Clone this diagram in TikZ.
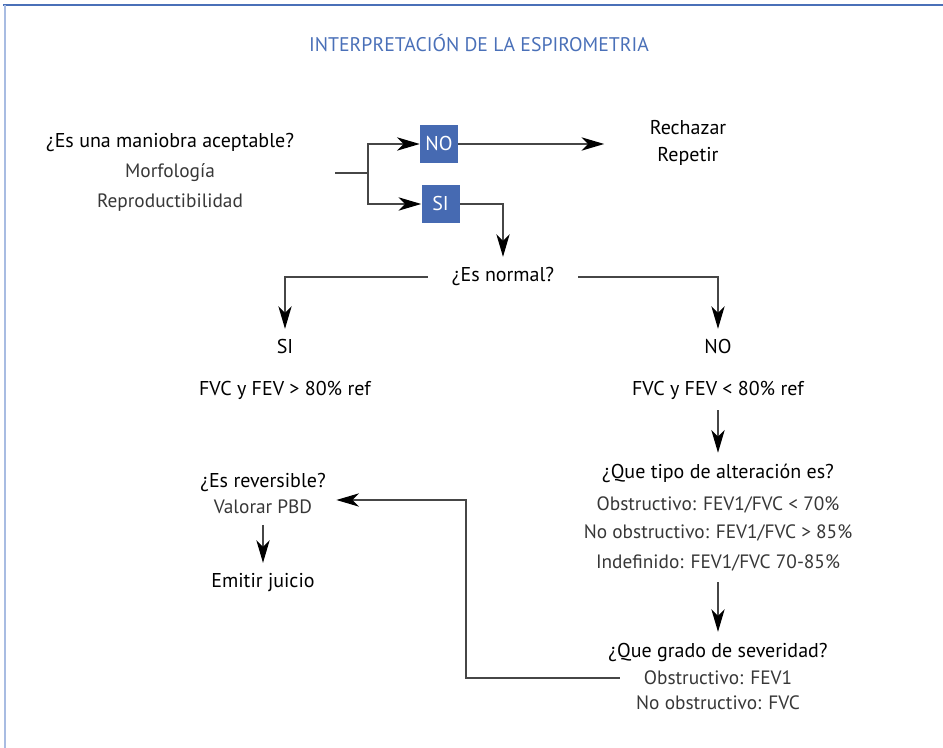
\documentclass[tikz,border=0pt]{standalone}
\usepackage{fontspec}
\setmainfont{PT Sans}
\usetikzlibrary{arrows.meta,positioning}
\definecolor{framedark}{RGB}{74,112,184}
\definecolor{framelight}{RGB}{168,188,226}
\definecolor{boxblue}{RGB}{70,106,178}
\definecolor{subgray}{RGB}{55,55,55}
\definecolor{linegray}{RGB}{70,70,70}

\begin{document}
\begin{tikzpicture}[x=0.75pt,y=-0.75pt,
  head/.style={font=\fontsize{15}{17}\selectfont,inner xsep=18pt,inner ysep=8pt},
  sub/.style={head,font=\fontsize{14.5}{17}\selectfont,text=subgray},
  answer/.style={fill=boxblue,text=white,minimum size=28.5pt,inner sep=0pt,
    font=\fontsize{15}{17}\selectfont},
  link/.style={linegray,line width=1pt},
  flow/.style={link,-{Stealth[length=17pt,width=10pt,inset=5pt,color=black]}},
]
  \useasboundingbox (0,0) rectangle (943,748);
  % frame
  \draw[framedark,line width=2pt] (3,5) -- (943,5);
  \draw[framelight,line width=2.2pt] (5,5) -- (5,748);
  \node[font=\fontsize{14.8}{17}\selectfont,text=framedark] (title) at (479,43)
    {INTERPRETACIÓN DE LA ESPIROMETRIA};

  % acceptable manoeuvre
  \node[head] (accept) at (170,143) {¿Es una maniobra aceptable?};
  \node[sub] (morph) at (170,173) {Morfología};
  \node[sub] (repro) at (170,203) {Reproductibilidad};
  \node[answer] (no1) at (439,144) {NO};
  \node[answer] (si1) at (440.5,204) {SI};
  \node[head,align=center,font=\fontsize{15}{20}\selectfont] (reject) at (688,143) {Rechazar\\Repetir};
  \coordinate (split) at (335,173);
  \coordinate (fork) at (368,173);
  \draw[link] (split) -- (fork);
  \draw[flow] (fork) |- (no1.west);
  \draw[flow] (fork) |- (si1.west);
  \draw[flow,shorten >=16pt] (no1.east) -- (no1.east -| reject.west);

  % normal?
  \node[head] (normal) at (503,277) {¿Es normal?};
  \node[head] (normyes) at (285,347) {SI};
  \node[head] (normno) at (718,347) {NO};
  \node[head] (yesval) at (285,390) {FVC y FEV > 80\% ref};
  \node[head] (noval) at (718,390) {FVC y FEV < 80\% ref};
  \draw[flow] (si1.east) -| (normal.north);
  \draw[flow] (normal.west) -| (normyes.north);
  \draw[flow] (normal.east) -| (normno.north);

  % type of alteration
  \node[head] (kind) at (718,473) {¿Que tipo de alteración es?};
  \node[sub] (obst) at (718,505) {Obstructivo: FEV1/FVC < 70\%};
  \node[sub] (nonobst) at (718,533) {No obstructivo: FEV1/FVC > 85\%};
  \node[sub] (undef) at (718,563) {Indefinido: FEV1/FVC 70-85\%};
  \draw[flow] (noval.south) -- (kind.north);

  % severity
  \node[head] (grade) at (718,652) {¿Que grado de severidad?};
  \node[sub] (gobst) at (718,678) {Obstructivo: FEV1};
  \node[sub] (gnon) at (718,703) {No obstructivo: FVC};
  \draw[flow] (undef.south) -- (grade.north);

  % reversibility
  \node[head] (rev) at (263,483) {¿Es reversible?};
  \node[sub] (pbd) at (263,507) {Valorar PBD};
  \node[head] (verdict) at (263,583) {Emitir juicio};
  \coordinate (turn) at (466,500);
  \draw[flow] (gobst.west) -| (turn) -- (turn -| pbd.east);
  \draw[flow] (pbd.south) -- (verdict.north);
\end{tikzpicture}
\end{document}
